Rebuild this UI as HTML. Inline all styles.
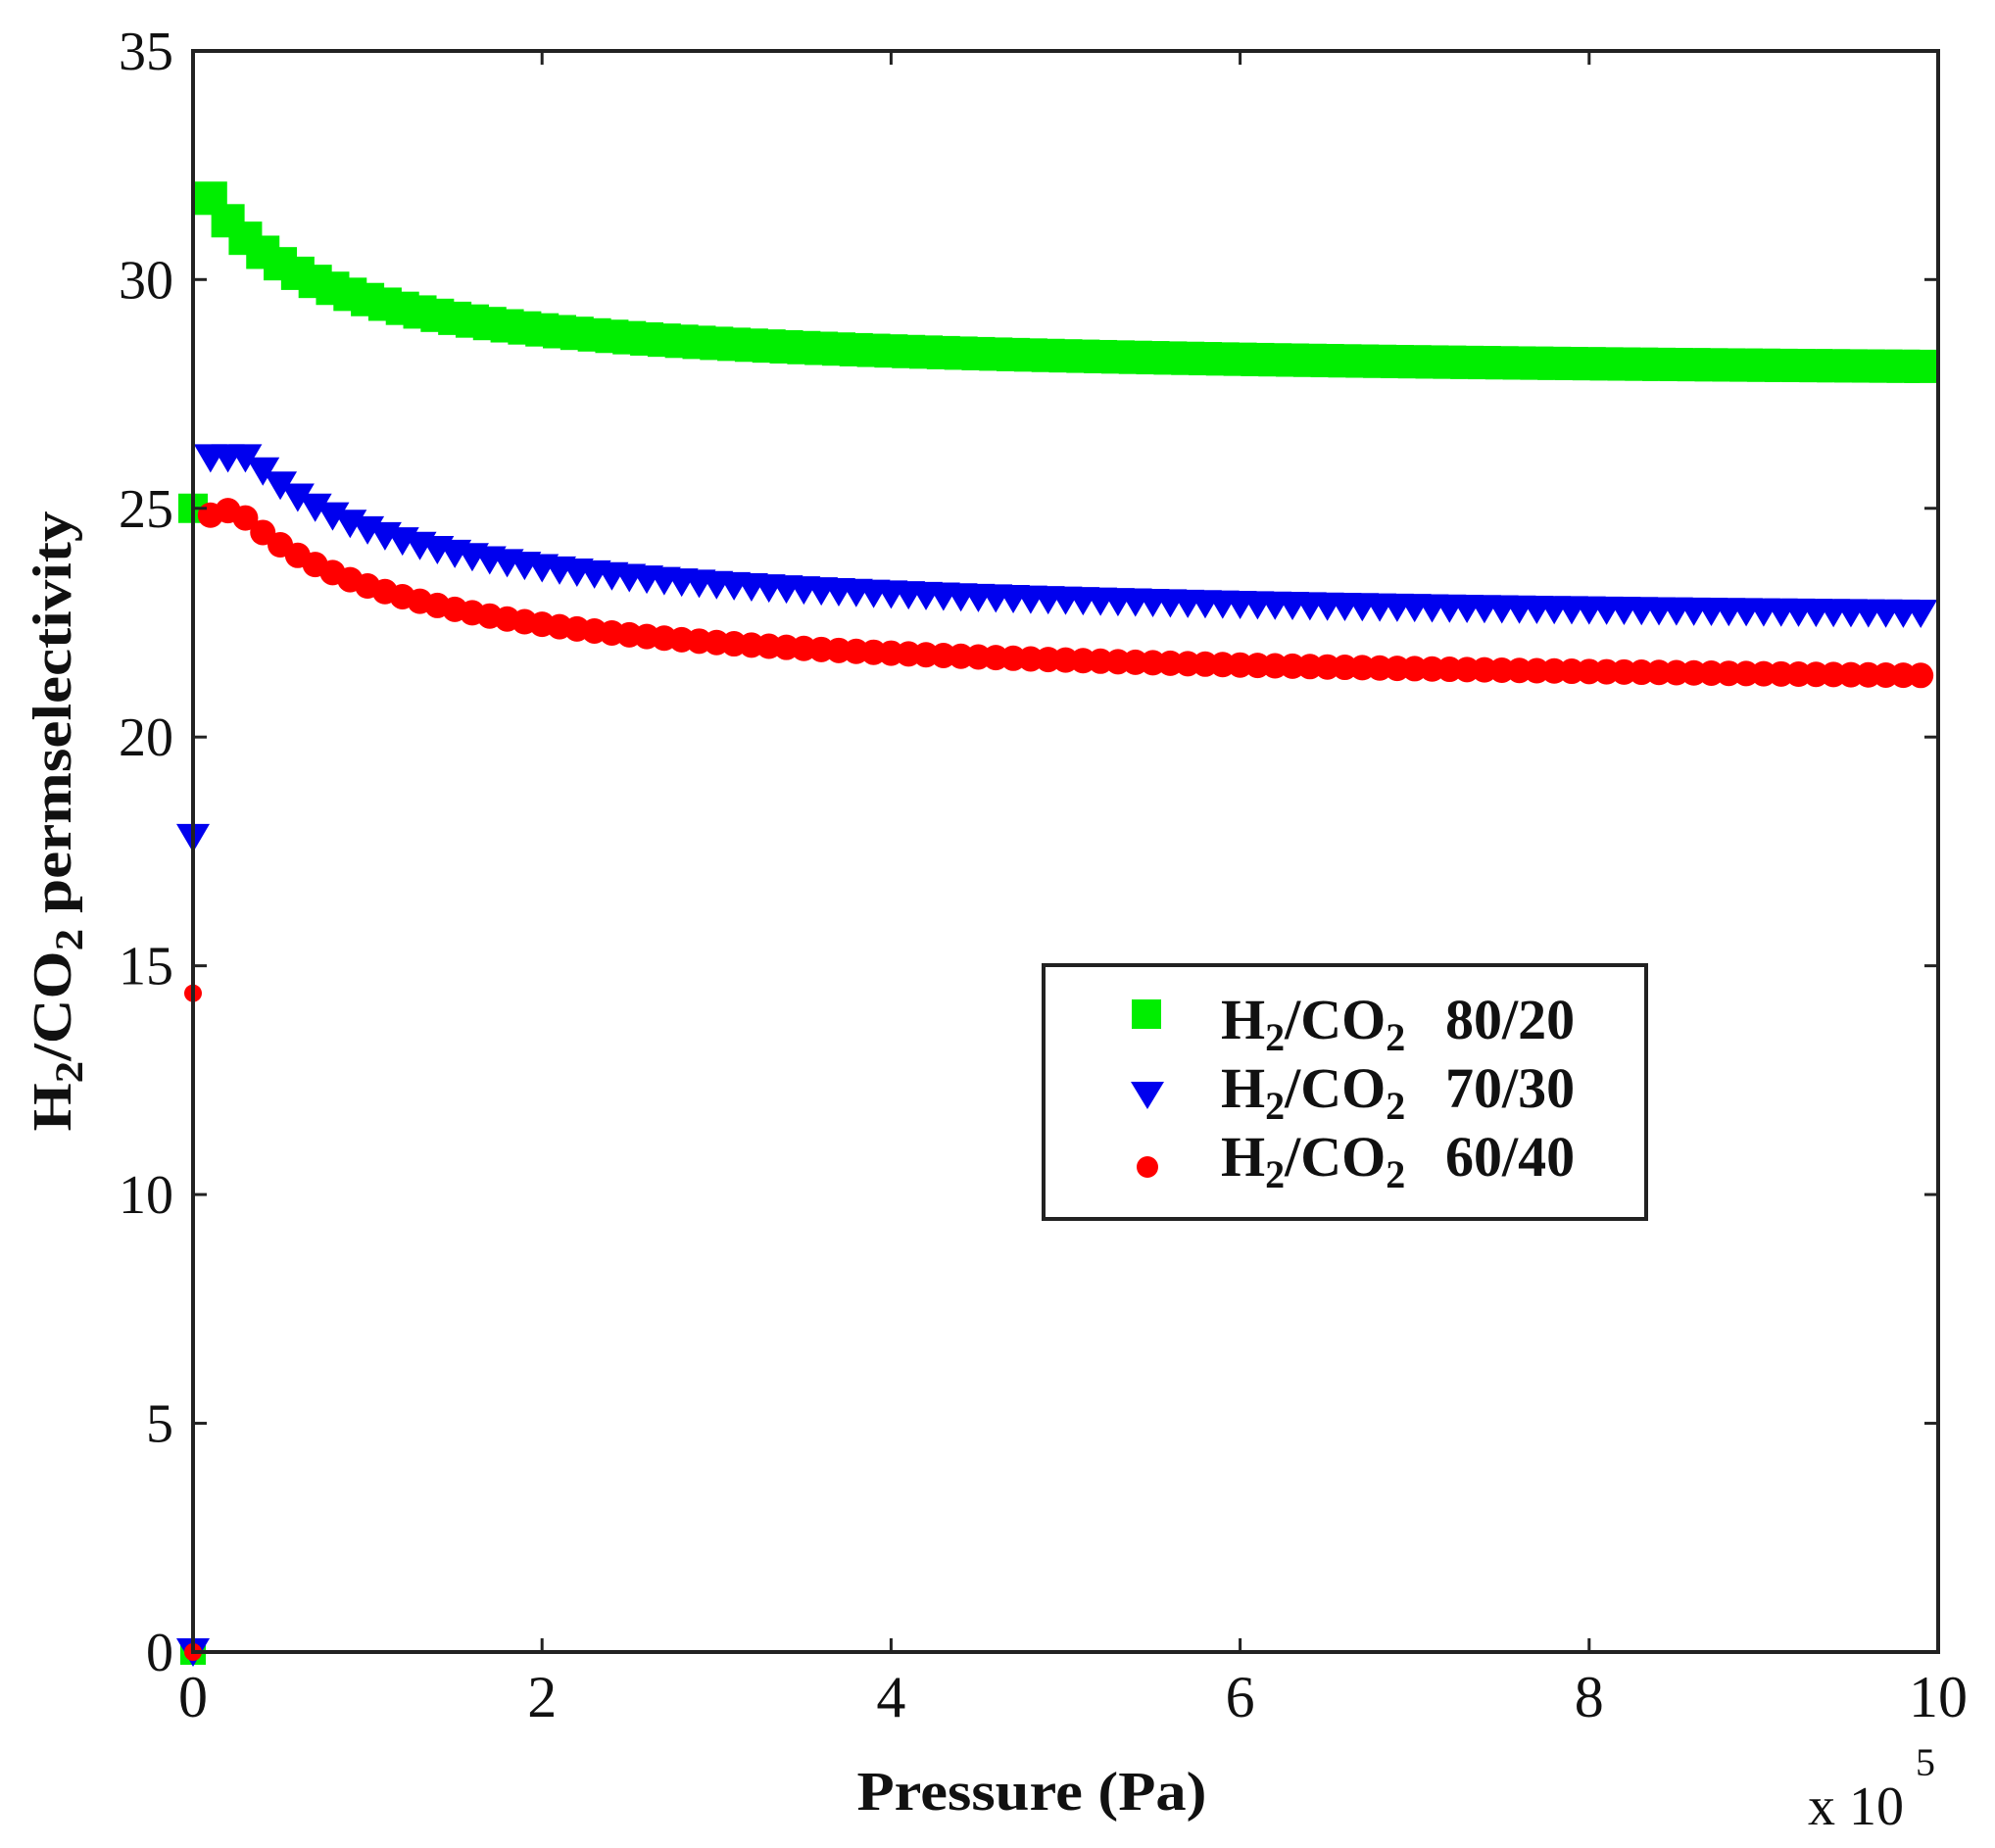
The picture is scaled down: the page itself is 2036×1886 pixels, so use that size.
<!DOCTYPE html>
<html><head><meta charset="utf-8"><style>
html,body{margin:0;padding:0;background:#fff;}
svg{display:block;}
text{font-family:"Liberation Serif","Times New Roman",Times,serif;fill:#111;}
</style></head><body>
<svg id="s" width="2036" height="1886" viewBox="0 0 2036 1886" xmlns="http://www.w3.org/2000/svg" font-family="Liberation Serif, Times New Roman, serif">
<rect width="2036" height="1886" fill="#fff"/>
<g id="data"></g>
<rect x="197" y="52" width="1781" height="1634" fill="none" stroke="#222" stroke-width="4"/>
<g id="ticks" stroke="#222" stroke-width="3"></g>
<g id="labels" font-size="56"></g>
<text x="1053" y="1847" font-size="56" font-weight="bold" text-anchor="middle" textLength="357" lengthAdjust="spacingAndGlyphs">Pressure (Pa)</text>
<text x="1845" y="1862" font-size="56">x 10</text>
<text x="1955" y="1812" font-size="40">5</text>
<text transform="translate(72,838) rotate(-90)" font-size="56" font-weight="bold" text-anchor="middle" textLength="633" lengthAdjust="spacingAndGlyphs">H<tspan font-size="40" dy="12">2</tspan><tspan dy="-12">/CO</tspan><tspan font-size="40" dy="12">2</tspan><tspan dy="-12"> permselectivity</tspan></text>
<rect x="1065" y="985" width="615" height="259" fill="#fff" stroke="#222" stroke-width="4"/>
<rect x="1155" y="1020" width="30" height="30" fill="#00ee00"/>
<polygon points="1154,1104 1188,1104 1171,1132" fill="#0000ee"/>
<circle cx="1171" cy="1191" r="11" fill="#ff0000"/>
<g font-size="58" font-weight="bold">
<text x="1246" y="1060">H<tspan font-size="40" dy="12">2</tspan><tspan dy="-12">/CO</tspan><tspan font-size="40" dy="12">2</tspan><tspan dy="-12" x="1475">80/20</tspan></text>
<text x="1246" y="1130">H<tspan font-size="40" dy="12">2</tspan><tspan dy="-12">/CO</tspan><tspan font-size="40" dy="12">2</tspan><tspan dy="-12" x="1475">70/30</tspan></text>
<text x="1246" y="1200">H<tspan font-size="40" dy="12">2</tspan><tspan dy="-12">/CO</tspan><tspan font-size="40" dy="12">2</tspan><tspan dy="-12" x="1475">60/40</tspan></text>
</g>
</svg>
<script>
var NS="http://www.w3.org/2000/svg";
var X0=197,X1=1978,Y0=1686,YS=46.69;
function px(x){return X0+x*(X1-X0)/10;}
function py(y){return Y0-y*YS;}
function el(p,tag,a){var e=document.createElementNS(NS,tag);for(var k in a)e.setAttribute(k,a[k]);p.appendChild(e);return e;}
var t=document.getElementById("ticks"),L=document.getElementById("labels"),D=document.getElementById("data");
for(var v=0;v<=35;v+=5){var y=py(v);
 el(t,"line",{x1:X0,y1:y,x2:X0+14,y2:y});el(t,"line",{x1:X1-14,y1:y,x2:X1,y2:y});
 var tx=el(L,"text",{x:177,y:y+19,"text-anchor":"end"});tx.textContent=v;}
for(var v=0;v<=10;v+=2){var x=px(v);
 el(t,"line",{x1:x,y1:Y0,x2:x,y2:Y0-14});el(t,"line",{x1:x,y1:52,x2:x,y2:66});
 var tx=el(L,"text",{x:x,y:1752,"text-anchor":"middle","font-size":"60"});tx.textContent=v;}
var gG=el(D,"g",{fill:"#00ee00"}),gB=el(D,"g",{fill:"#0000ee"}),gR=el(D,"g",{fill:"#ff0000"});
function sq(x,y,s){el(gG,"rect",{x:x-s/2,y:y-s/2,width:s,height:s});}
function tri(x,y){el(gB,"polygon",{points:(x-17)+","+(y-14)+" "+(x+17)+","+(y-14)+" "+x+","+(y+15)});}
function st(x,y){el(gR,"circle",{cx:x,cy:y,r:13});}
for(var i=1;i<=99;i++){var x=i*0.1;
 var g=27.84+2.756/(x+0.6);
 var b=Math.min(26.1,22.375+3.44/(x+0.6));
 var r=20.95+4.25/(x+0.807); if(x<=0.25) r=24.75+x*1.0; else r=Math.min(r,25.0);
 sq(px(x),py(g),34);tri(px(x),py(b));st(px(x),py(r));}
sq(X0,py(25),30);tri(X0,py(17.8));el(gR,"circle",{cx:X0,cy:py(14.4),r:9});
sq(X0,py(0),26);tri(X0,py(0));el(gR,"circle",{cx:X0,cy:py(0),r:9});
</script>
</body></html>
